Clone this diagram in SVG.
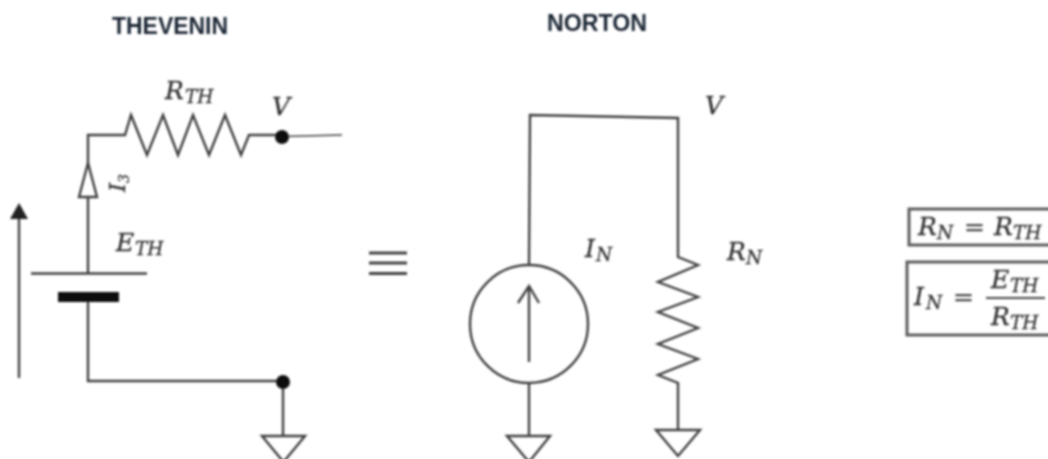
<svg xmlns="http://www.w3.org/2000/svg" width="1048" height="459" viewBox="0 0 1048 459">
<defs><filter id="soft" x="-5%" y="-5%" width="110%" height="110%"><feGaussianBlur stdDeviation="0.8"/></filter></defs>
<style>
.w{fill:none;stroke:#404040;stroke-width:2.4}
.t{fill:#1c2636;font:bold 23px "Liberation Sans",Arial,sans-serif}
.m{fill:#333;stroke:#333;stroke-width:.3;font:italic 25px "DejaVu Serif",serif}
.s{fill:#333;stroke:#333;stroke-width:.3;font:italic 18.500px "DejaVu Serif",serif}
.e{fill:#555;font:25px "DejaVu Serif",serif}
.b{fill:none;stroke:#5c5c5c;stroke-width:3}
</style>
<rect width="1048" height="459" fill="#fff"/>
<g filter="url(#soft)">
<g id="titles">
<text class="t" x="112" y="34" textLength="116" lengthAdjust="spacingAndGlyphs">THEVENIN</text>
<text class="t" x="547" y="31" textLength="100" lengthAdjust="spacingAndGlyphs">NORTON</text>
</g>
<g id="connectors">
<path class="w" d="M88 163V135H125L131 115L147 155L163 115L178 155L193 115L209 155L225 115L241 155L249 135H282"/>
<path class="w" d="M282 136.500L342 135" style="stroke-width:1.500"/>
<path class="w" d="M88 197V273"/>
<path class="w" d="M88 302V381H283V436"/>
<path class="w" d="M529 265L530 115L678 118V257L698 265L658 282L698 297L658 312L698 328L658 344L698 359L658 375L678 383V430"/>
<path class="w" d="M529 383V436"/>
</g>
<g id="thevenin-current"><path class="w" d="M88 163L79 197H97Z"/>
<text class="m" transform="translate(125 192) rotate(-90)" style="font-size:23px">I<tspan class="s" dy="4" style="font-size:14px">3</tspan></text></g>
<g id="voltage-arrow"><path class="w" d="M19 378V215"/><path d="M19 203L28 219H10Z" fill="#222"/></g>
<g id="battery"><path class="w" d="M31 273.500H147"/><rect x="58" y="292" width="61" height="10" fill="#111"/></g>
<g id="nodes"><circle id="node-v" cx="282" cy="137" r="7" fill="#111"/><circle id="node-gnd" cx="283" cy="382" r="7" fill="#111"/></g>
<g id="ground-1"><path class="w" d="M262 436H305L283.500 462Z"/></g>
<g id="ground-2"><path class="w" d="M507 436H550L529 462Z"/></g>
<g id="ground-3"><path class="w" d="M656 430H700L678 456Z"/></g>
<g id="equivalent"><path class="w" style="stroke-width:3" d="M369 253H407M369 263H407M369 273.500H407"/></g>
<g id="source"><circle class="w" cx="529" cy="324" r="59"/><path class="w" d="M529 362V286M518 303L529 286L539 303"/></g>
<g id="labels">
<text class="m" x="165" y="99">R<tspan class="s" dy="4" x="185">TH</tspan></text>
<text class="m" x="272" y="115">V</text>
<text class="m" x="116" y="251">E<tspan class="s" dy="4" x="135">TH</tspan></text>
<text class="m" x="705" y="114">V</text>
<text class="m" x="585" y="257">I<tspan class="s" dy="4" x="596">N</tspan></text>
<text class="m" x="727" y="260">R<tspan class="s" dy="4" x="746">N</tspan></text>
</g>
<g id="eq-1"><rect class="b" x="909" y="209" width="150" height="36"/>
<text class="m" x="918" y="235">R<tspan class="s" dy="4" x="937">N</tspan><tspan class="e" dy="-4" x="964">=</tspan><tspan class="m" x="994">R</tspan><tspan class="s" dy="4" x="1013">TH</tspan></text></g>
<g id="eq-2"><rect class="b" x="907" y="262" width="150" height="73"/>
<text class="m" x="914" y="305">I<tspan class="s" dy="4" x="926">N</tspan><tspan class="e" dy="-4" x="953">=</tspan></text>
<path d="M986 298H1045" stroke="#444" stroke-width="1.800"/>
<text class="m" x="991" y="288">E<tspan class="s" dy="4" x="1010">TH</tspan></text>
<text class="m" x="991" y="325">R<tspan class="s" dy="4" x="1010">TH</tspan></text></g>
</g>
</svg>
